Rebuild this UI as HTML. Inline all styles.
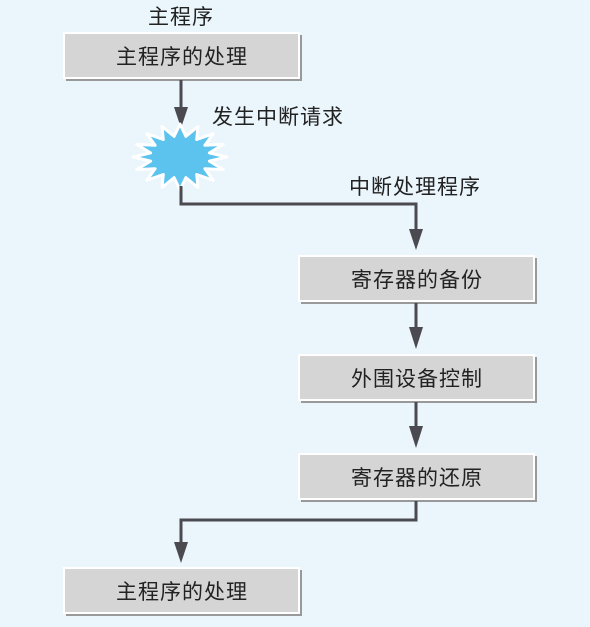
<!DOCTYPE html>
<html><head><meta charset="utf-8"><style>
html,body{margin:0;padding:0;background:#eaf5fc;}
svg{display:block;}
text{font-family:"Liberation Sans","Noto Sans CJK SC",sans-serif;fill:#222;letter-spacing:1px;}
</style></head><body>
<svg width="590" height="627" viewBox="0 0 590 627" xmlns="http://www.w3.org/2000/svg">
<rect width="590" height="627" fill="#eaf5fc"/>
<defs>
<g id="box">
<rect x="2" y="2" width="236" height="46" fill="#999"/>
<rect x="0" y="0" width="235" height="45" fill="#d5d5d5" stroke="#ffffff" stroke-width="2"/>
</g>
</defs>
<text x="181" y="24" font-size="21" text-anchor="middle">主程序</text>
<use href="#box" x="64" y="33"/>
<text x="182" y="64" font-size="21" text-anchor="middle">主程序的处理</text>
<line x1="181" y1="80" x2="181" y2="110" stroke="#4a4a50" stroke-width="3"/>
<polygon points="174,107 188,107 181,128" fill="#4a4a50"/>
<text x="212" y="124" font-size="21">发生中断请求</text>
<polygon points="227,157 209.4,161.1 223.4,169.6 204.9,168.7 213.2,180.3 196.7,174.5 198,187.5 185.9,177.6 180,190 174.1,177.6 162,187.5 163.3,174.5 146.8,180.3 155.1,168.7 136.6,169.6 150.6,161.1 133,157 150.6,152.9 136.6,144.4 155.1,145.3 146.8,133.7 163.3,139.5 162,126.5 174.1,136.4 180,124 185.9,136.4 198,126.5 196.7,139.5 213.2,133.7 204.9,145.3 223.4,144.4 209.4,152.9" fill="#5bc3ee" stroke="#ffffff" stroke-width="3" stroke-linejoin="round"/>
<polyline points="181,186 181,204 416,204 416,232" fill="none" stroke="#4a4a50" stroke-width="3"/>
<polygon points="409,229 423,229 416,250" fill="#4a4a50"/>
<text x="415" y="194" font-size="21" text-anchor="middle">中断处理程序</text>
<use href="#box" x="299" y="256"/>
<text x="417" y="287" font-size="21" text-anchor="middle">寄存器的备份</text>
<line x1="416" y1="303" x2="416" y2="330" stroke="#4a4a50" stroke-width="3"/>
<polygon points="409,327 423,327 416,349" fill="#4a4a50"/>
<use href="#box" x="299" y="355"/>
<text x="417" y="386" font-size="21" text-anchor="middle">外围设备控制</text>
<line x1="416" y1="402" x2="416" y2="429" stroke="#4a4a50" stroke-width="3"/>
<polygon points="409,426 423,426 416,448" fill="#4a4a50"/>
<use href="#box" x="299" y="454"/>
<text x="417" y="485" font-size="21" text-anchor="middle">寄存器的还原</text>
<polyline points="416,501 416,520 181,520 181,545" fill="none" stroke="#4a4a50" stroke-width="3"/>
<polygon points="174,542 188,542 181,563" fill="#4a4a50"/>
<use href="#box" x="64" y="568"/>
<text x="182" y="599" font-size="21" text-anchor="middle">主程序的处理</text>
</svg>
</body></html>
